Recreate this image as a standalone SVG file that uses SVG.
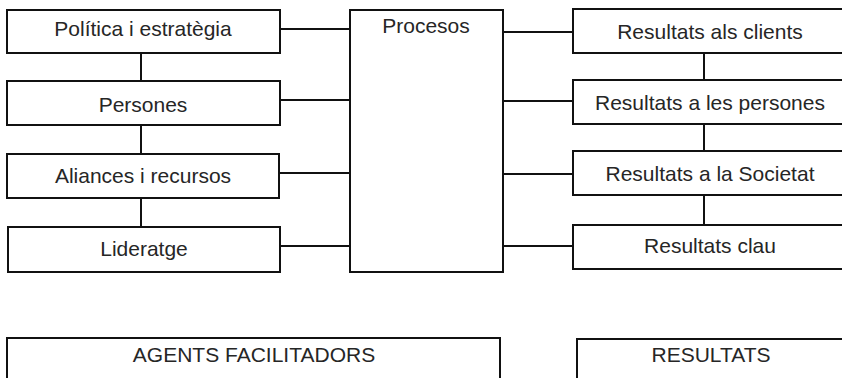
<svg xmlns="http://www.w3.org/2000/svg" width="842" height="378" viewBox="0 0 842 378">
<style>
.box{fill:#fff;stroke:#111;stroke-width:2}
.lbl{font-family:"Liberation Sans",Arial,sans-serif;font-size:21px;fill:#262626;text-anchor:middle}
.con{stroke:#111;stroke-width:2;fill:none}
</style>
<rect width="842" height="378" fill="#fff"/>
<g id="connectors">
<path class="con" d="M141 53V81M141 125V154M141 198V227"/>
<path class="con" d="M704 53V80M704 124V151M704 195V225"/>
<path class="con" d="M280 29H350M280 100H350M280 173H350M280 246H350"/>
<path class="con" d="M503 32H573M503 101H573M503 174H573M503 246H573"/>
</g>
<g id="politica"><rect class="box" x="7" y="10" width="273" height="43"/><text class="lbl" x="143" y="36">Política i estratègia</text></g>
<g id="persones"><rect class="box" x="7" y="81" width="273" height="44"/><text class="lbl" x="143" y="112">Persones</text></g>
<g id="aliances"><rect class="box" x="7" y="154" width="272" height="44"/><text class="lbl" x="143" y="183">Aliances i recursos</text></g>
<g id="lideratge"><rect class="box" x="8" y="227" width="272" height="45"/><text class="lbl" x="144" y="256">Lideratge</text></g>
<g id="procesos"><rect class="box" x="350" y="10" width="153" height="262"/><text class="lbl" x="426" y="33">Procesos</text></g>
<g id="clients"><rect class="box" x="573" y="9" width="274" height="44"/><text class="lbl" x="710" y="39">Resultats als clients</text></g>
<g id="rpersones"><rect class="box" x="573" y="80" width="274" height="44"/><text class="lbl" x="710" y="110">Resultats a les persones</text></g>
<g id="societat"><rect class="box" x="573" y="151" width="274" height="44"/><text class="lbl" x="710" y="181">Resultats a la Societat</text></g>
<g id="clau"><rect class="box" x="573" y="225" width="274" height="44"/><text class="lbl" x="710" y="253">Resultats clau</text></g>
<g id="agents"><rect class="box" x="7" y="338" width="493" height="50"/><text class="lbl" x="254" y="362">AGENTS FACILITADORS</text></g>
<g id="resultats"><rect class="box" x="577" y="339" width="270" height="50"/><text class="lbl" x="711" y="362">RESULTATS</text></g>
</svg>
